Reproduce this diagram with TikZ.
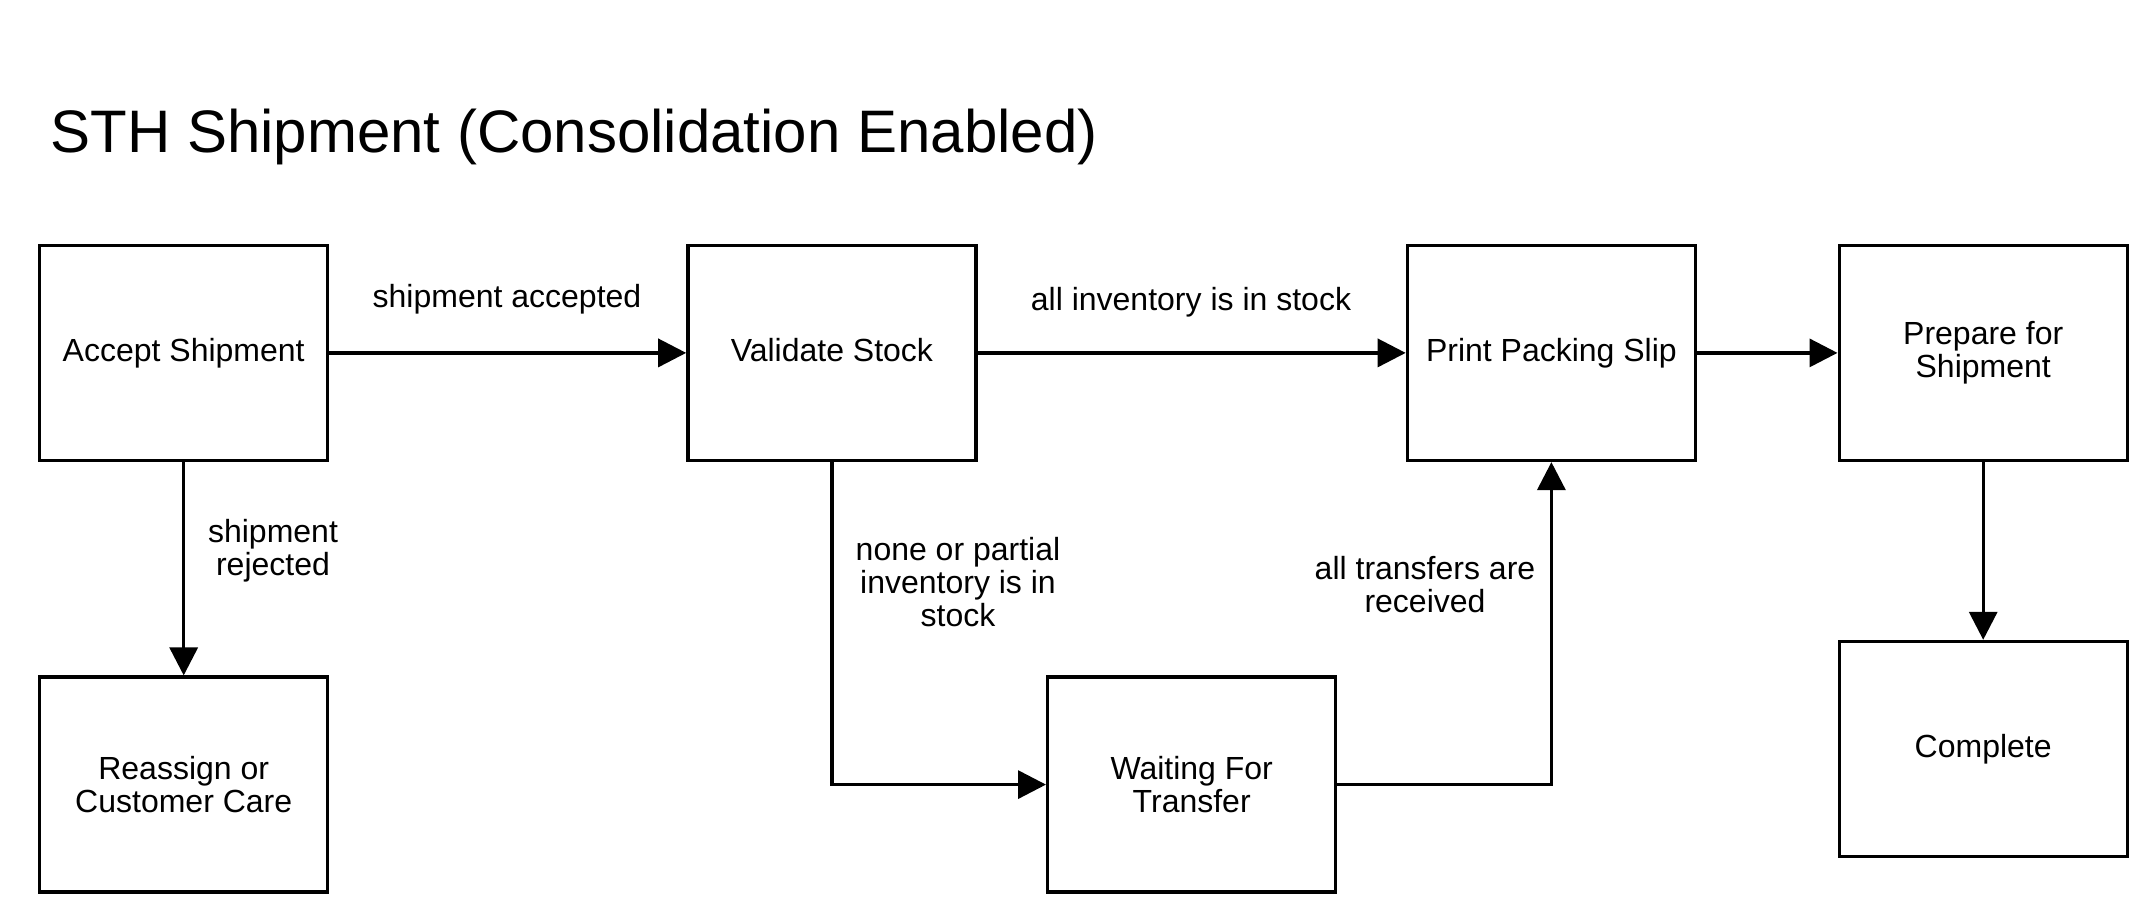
\documentclass[tikz,border=0pt]{standalone}
\usepackage{fontspec}
\setmainfont{Liberation Sans}
\usetikzlibrary{arrows.meta}
\begin{document}
\begin{tikzpicture}[x=0.5pt,y=-0.5pt,
  box/.style={draw,line width=1.7pt,minimum width=144pt,minimum height=107.5pt,inner sep=0pt,align=center,font=\fontsize{16pt}{16.5pt}\selectfont},
  lbl/.style={align=center,inner sep=0pt,font=\fontsize{16pt}{16.5pt}\selectfont},
  conn/.style={line width=1.7pt,-{Triangle[length=14pt,width=14pt]}}]
\useasboundingbox (0,0) rectangle (2149,915);
\node[anchor=base west,inner sep=0pt,font=\fontsize{30pt}{32pt}\selectfont] (title) at (50,153) {STH Shipment (Consolidation Enabled)};
\node[box] (accept) at (183.7,352.9) {Accept Shipment};
\node[box] (validate) at (831.9,352.9) {Validate Stock\vphantom{p}};
\node[box] (print) at (1551.4,352.9) {Print Packing Slip};
\node[box] (prepare) at (1983.2,352.9) {Prepare for\\Shipment};
\node[box] (reassign) at (183.7,784.6) {Reassign or\\Customer Care};
\node[box] (waiting) at (1191.7,784.6) {Waiting For\\Transfer};
\node[box] (complete) at (1983.2,749) {Complete};
\draw[conn] (accept) -- (validate);
\draw[conn] (accept) -- (reassign);
\draw[conn] (validate) -- (print);
\draw[conn] (validate.south) |- (waiting.west);
\draw[conn] (waiting.east) -| (print.south);
\draw[conn] (print) -- (prepare);
\draw[conn] (prepare) -- (complete);
\node[lbl] (l1) at (507,299) {shipment accepted};
\node[lbl] (l2) at (273,551) {shipment\\rejected};
\node[lbl] (l3) at (1191,302) {all inventory is in stock};
\node[lbl] (l4) at (958,582) {none or partial\\inventory is in\\stock};
\node[lbl] (l5) at (1425,585) {all transfers are\\received};
\end{tikzpicture}
\end{document}
